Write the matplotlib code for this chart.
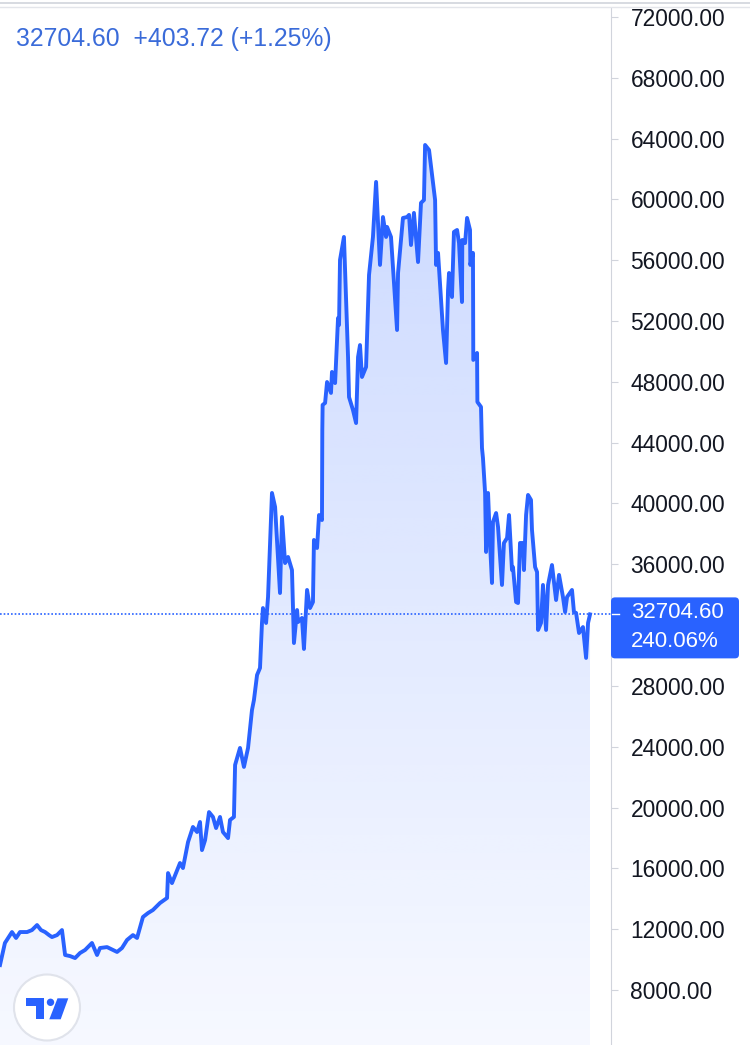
import numpy as np
import matplotlib.pyplot as plt
import matplotlib as mpl
from matplotlib.patches import FancyBboxPatch, Circle, Polygon
from matplotlib.lines import Line2D
from matplotlib.colors import to_rgb
from matplotlib.transforms import IdentityTransform

mpl.rcParams['font.family'] = ['Liberation Sans', 'DejaVu Sans']

# day index (approx. one year) and closing price
days = [0, 3, 7.3, 9.8, 12.2, 16.5, 19.5, 22.6, 25, 27.5, 29.9, 31.7, 34.8, 37.8, 39.7,
        42.7, 45.8, 48.8, 51.9, 56.1, 59.2, 61, 65.3, 68.9, 71.4, 74.4, 77.5, 81.1, 83.6,
        87.2, 90.3, 93.3, 97.6, 101.9, 102.5, 104.9, 109.8, 111.6, 114.7, 117.7, 120.2,
        122, 123.2, 125.1, 127.5, 129.9, 131.8, 134.2, 136, 139.1, 140.3, 142.7, 143.4,
        146.4, 148.8, 151.3, 153.7, 154.9, 156.8, 158.6, 159.8, 160.4, 162.3, 163.5,
        165.9, 167.8, 170.8, 172, 173.9, 175.7, 178.1, 179.3, 181.2, 181.8, 184.2, 185.4,
        187.3, 189.1, 190.9, 191.5, 193.4, 194.6, 196.4, 196.6, 196.8, 198.3, 199.5,
        201.9, 202.5, 204.4, 206.2, 206.8, 207.4, 209.8, 212.3, 212.9, 215.3, 217.2,
        218.4, 219.6, 220.8, 223.3, 225.1, 227.5, 229.4, 231.8, 233.6, 235.5, 236.1,
        238.5, 242.2, 242.8, 245.8, 248.3, 249.5, 250.7, 252.5, 255, 256.8, 258.6, 259.3,
        261.7, 265.4, 266, 267.2, 270.2, 272.1, 273.3, 273.9, 275.7, 276.9, 278.8, 280,
        281.8, 282, 283.7, 284.9, 286.7, 286.9, 288.5, 288.7, 291, 291.2, 293.4, 294,
        294.6, 295.9, 296.5, 297.7, 298.9, 300.1, 300.7, 302.6, 303.8, 306.2, 307.4,
        309.3, 310.5, 312.3, 312.9, 314.8, 316, 317.2, 319, 319.6, 320.9, 322.1, 323.9,
        324.5, 326.4, 327.6, 328.2, 330, 331.2, 333.1, 334.3, 336.7, 339.2, 341, 343.4,
        344.7, 345.9, 348.9, 350.1, 351.4, 353.2, 355.6, 357.5, 358.7, 359.9]
price = [9640, 11090, 11810, 11420, 11810, 11810, 11940, 12270, 11940, 11810, 11610, 11480,
         11610, 11940, 10300, 10230, 10100, 10430, 10630, 11090, 10300, 10760, 10820, 10630,
         10500, 10760, 11290, 11610, 11420, 12800, 13060, 13260, 13720, 14050, 15690, 15030,
         16350, 16020, 17730, 18720, 18390, 19050, 17200, 17860, 19700, 19380, 18650, 19380,
         18390, 17990, 19180, 19380, 22800, 23920, 22670, 23920, 26410, 27070, 28720, 29180,
         32140, 33120, 32140, 33850, 40690, 39770, 34110, 39110, 36080, 36480, 35620, 30820,
         32990, 32200, 32470, 30430, 34310, 33120, 33520, 37600, 37070, 39240, 38910, 44830,
         46480, 46610, 47990, 47270, 48650, 47920, 52200, 51740, 56020, 57530, 49630, 47000,
         46150, 45290, 49630, 50420, 48320, 48980, 55030, 57530, 61150, 55690, 58840, 57530,
         58190, 57530, 51410, 55160, 58780, 58840, 58980, 57000, 59110, 55880, 59770, 59960,
         63580, 63250, 59960, 55690, 56480, 51410, 49240, 54040, 55160, 53580, 57860, 57990,
         57130, 53250, 57330, 57130, 58780, 57990, 55690, 56480, 49440, 49900, 46680, 46350,
         43650, 42990, 40690, 36810, 40690, 37400, 34770, 38780, 39370, 38450, 34640, 37400,
         37730, 39240, 35620, 35820, 33520, 33450, 37400, 37400, 35620, 39240, 40560, 40230,
         38260, 35820, 35490, 31680, 32140, 34640, 31680, 34640, 35950, 33650, 35300, 33850,
         32860, 33850, 34310, 32860, 32800, 31480, 31870, 29840, 32140, 32704.60]

last_price = 32704.60
change = 403.72
change_pct = 1.25
total_pct = 240.06
yticks = np.arange(8000, 72001, 4000)

blue = '#2962ff'
W, H = 750, 1045
fig = plt.figure(figsize=(W / 100, H / 100), dpi=100)
ax = fig.add_axes([0, 0, 611 / W, 1037 / H])
ylo, yhi = 4380, 72590
xmax = 372.7

# gradient area under the line
verts = np.column_stack([np.r_[days, days[-1], days[0]], np.r_[price, ylo, ylo]])
clip = Polygon(verts, closed=True, fc='none', ec='none')
ax.add_patch(clip)
grad = np.zeros((256, 1, 4))
grad[..., :3] = to_rgb(blue)
grad[:, 0, 3] = np.linspace(0.27, 0.04, 256)
im = ax.imshow(grad, extent=[days[0], days[-1], ylo, yhi], aspect='auto',
               origin='upper', zorder=1, interpolation='bilinear')
im.set_clip_path(clip)

ax.axhline(last_price, color=blue, lw=1.2, ls=(0, (1, 1.2)), zorder=2)
ax.plot(days, price, color=blue, lw=2.8, solid_joinstyle='round', zorder=3)

ax.set_xlim(0, xmax)
ax.set_ylim(ylo, yhi)
ax.set_xticks([])
for s in ['left', 'top', 'bottom']:
    ax.spines[s].set_visible(False)
ax.spines['right'].set_color('#d1d4dc')
ax.yaxis.tick_right()
# the tick hidden under the last-price box gets no label
ax.set_yticks(yticks)
ax.set_yticklabels(['' if abs(v - last_price) < 1500 else f'{v:.2f}' for v in yticks])
ax.tick_params(axis='y', length=5, color='#d1d4dc', labelcolor='#131722',
               labelsize=16.4, pad=9)

# header
fig.text(16 / W, 1 - 39 / H, f'{last_price:.2f}  +{change:.2f} (+{change_pct:.2f}%)',
         color='#3a6bd9', fontsize=17.8, va='center', ha='left')

# top border lines
idt = IdentityTransform()
fig.add_artist(Line2D([0, W], [H - 3, H - 3], color='#d7dae1', lw=1.4, transform=idt))
fig.add_artist(Line2D([0, W], [H - 6.5, H - 6.5], color='#e3e5ea', lw=1.0, transform=idt))

# last price label
fig.canvas.draw()
yd = ax.transData.transform((0, last_price))[1]
fig.add_artist(FancyBboxPatch((611, yd - 44), 128, 61,
                              boxstyle='round,pad=0,rounding_size=4',
                              fc=blue, ec='none', transform=idt))
fig.add_artist(Line2D([612, 619], [yd, yd], color='white', lw=1, transform=idt))
fig.text(631, yd + 2, f'{last_price:.2f}', transform=idt, color='white',
         fontsize=16, va='center', ha='left')
fig.text(631, yd - 27, f'{total_pct:.2f}%', transform=idt, color='white',
         fontsize=16, va='center', ha='left')

# logo
fig.add_artist(Circle((47, H - 1007.5), 33, fc='white', ec='#e0e3eb', lw=1.5, transform=idt))
fig.add_artist(Polygon([(26, H - 998.3), (44.3, H - 998.3), (44.3, H - 1019.3),
                        (36, H - 1019.3), (36, H - 1006), (26, H - 1006)],
                       closed=True, fc=blue, ec='none', transform=idt))
fig.add_artist(Circle((50.5, H - 1002.3), 3.7, fc=blue, ec='none', transform=idt))
fig.add_artist(Polygon([(57.5, H - 998.3), (68.3, H - 998.3), (60.7, H - 1019.3),
                        (49.3, H - 1019.3)],
                       closed=True, fc=blue, ec='none', transform=idt))

fig.savefig('out.png', dpi=100)
